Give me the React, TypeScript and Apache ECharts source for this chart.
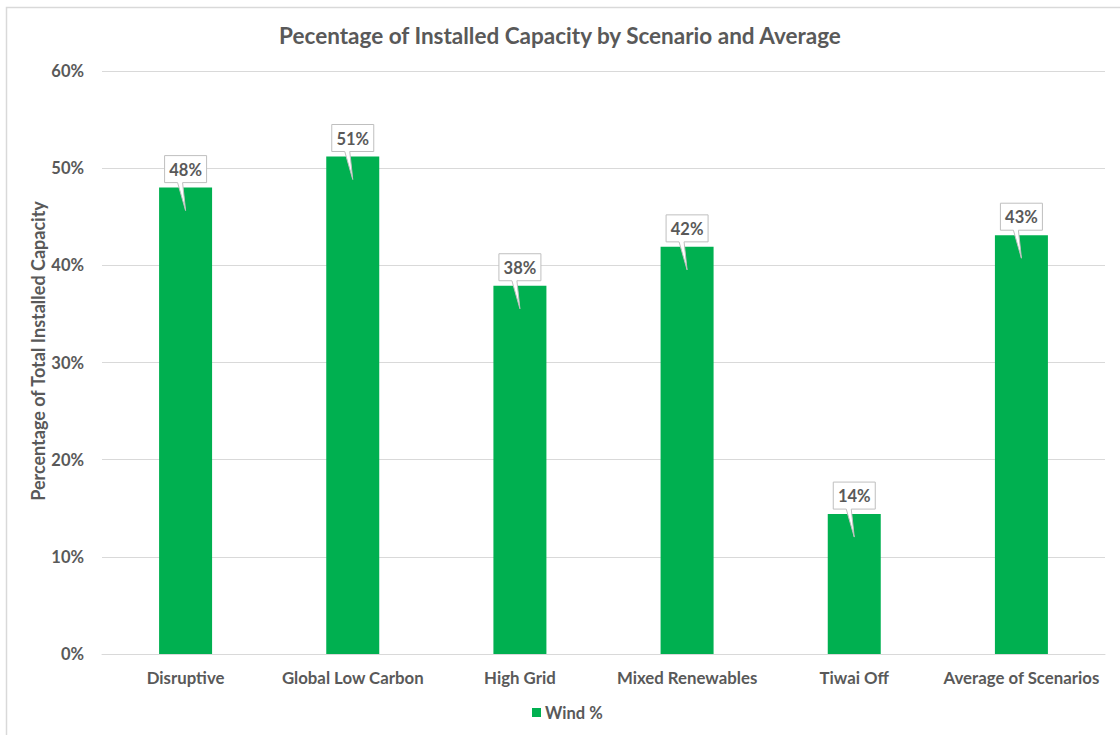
import React, { useEffect, useRef } from "react";
import * as echarts from "echarts";

const categories = ["Disruptive", "Global Low Carbon", "High Grid", "Mixed Renewables", "Tiwai Off", "Average of Scenarios"];
const windPct = [48.0, 51.2, 37.9, 41.9, 14.4, 43.1];
const yTicks = { min: 0, max: 60, interval: 10 };

const FONT = "Lato";
const TEXT = "#595959";
const GREEN = "#00b050";

export default function App() {
  const ref = useRef<HTMLDivElement>(null);
  useEffect(() => {
    if (!ref.current) return;
    const chart = echarts.init(ref.current, null, { renderer: "svg" });
    chart.setOption({
      animation: false,
      backgroundColor: "#ffffff",
      textStyle: { fontFamily: FONT },
      title: {
        text: "Pecentage of Installed Capacity by Scenario and Average",
        left: "center",
        top: 19,
        textStyle: { fontFamily: FONT, fontSize: 22.5, fontWeight: "bold", color: TEXT },
      },
      graphic: [
        {
          type: "rect",
          shape: { x: 6.5, y: 7.5, width: 1300, height: 900 },
          style: { fill: "none", stroke: "#d9d9d9", lineWidth: 1.5 },
          silent: true,
          z: -10,
        },
        {
          type: "text",
          x: 38,
          y: 351,
          rotation: Math.PI / 2,
          style: {
            text: "Percentage of Total Installed Capacity",
            align: "center",
            verticalAlign: "middle",
            fontFamily: FONT,
            fontSize: 18,
            fontWeight: "bold",
            fill: TEXT,
          },
        },
      ],
      legend: {
        data: ["Wind %"],
        left: 527,
        top: 699,
        icon: "rect",
        itemWidth: 9,
        itemHeight: 9,
        itemGap: 6,
        textStyle: { fontFamily: FONT, fontSize: 16.5, fontWeight: "bold", color: TEXT, padding: [0, 0, 0, -1] },
      },
      grid: { left: 102, right: 15, top: 71, bottom: 81 },
      xAxis: {
        type: "category",
        data: categories,
        axisLine: { lineStyle: { color: "#d9d9d9", width: 1 } },
        axisTick: { show: false },
        axisLabel: { fontFamily: FONT, fontSize: 16.8, fontWeight: "bold", color: TEXT, margin: 15, interval: 0 },
      },
      yAxis: {
        type: "value",
        min: yTicks.min,
        max: yTicks.max,
        interval: yTicks.interval,
        axisLine: { show: false },
        axisTick: { show: false },
        splitLine: { lineStyle: { color: "#d9d9d9", width: 1 } },
        axisLabel: { formatter: "{value}%", fontFamily: FONT, fontSize: 16.5, fontWeight: "bold", color: TEXT, margin: 18 },
      },
      series: [
        {
          name: "Wind %",
          type: "bar",
          data: windPct,
          barWidth: 53,
          itemStyle: { color: GREEN },
        },
        {
          name: "labels",
          type: "custom",
          data: windPct.map((v, i) => [i, v]),
          encode: { x: 0, y: 1 },
          z: 5,
          renderItem: (params: any, api: any) => {
            const p = api.coord([api.value(0), api.value(1)]);
            const cx = p[0];
            const ty = p[1];
            const L = cx - 21;
            const R = cx + 21;
            const T = ty - 32;
            const B = ty - 5;
            const label = Math.round(api.value(1)) + "%";
            return {
              type: "group",
              children: [
                {
                  type: "polygon",
                  shape: {
                    points: [
                      [L, T],
                      [R, T],
                      [R, B],
                      [cx - 3, B],
                      [cx, B + 28],
                      [cx - 8, B],
                      [L, B],
                    ],
                  },
                  style: { fill: "#ffffff", stroke: "#bfbfbf", lineWidth: 1 },
                },
                {
                  type: "text",
                  x: cx,
                  y: (T + B) / 2 + 0.5,
                  style: {
                    text: label,
                    align: "center",
                    verticalAlign: "middle",
                    fontFamily: FONT,
                    fontSize: 16.5,
                    fontWeight: "bold",
                    fill: TEXT,
                  },
                },
              ],
            };
          },
        },
      ],
    });
    return () => chart.dispose();
  }, []);
  return (
    <div
      ref={ref}
      style={{ position: "fixed", left: 0, top: 0, width: 1120, height: 735 }}
    />
  );
}
